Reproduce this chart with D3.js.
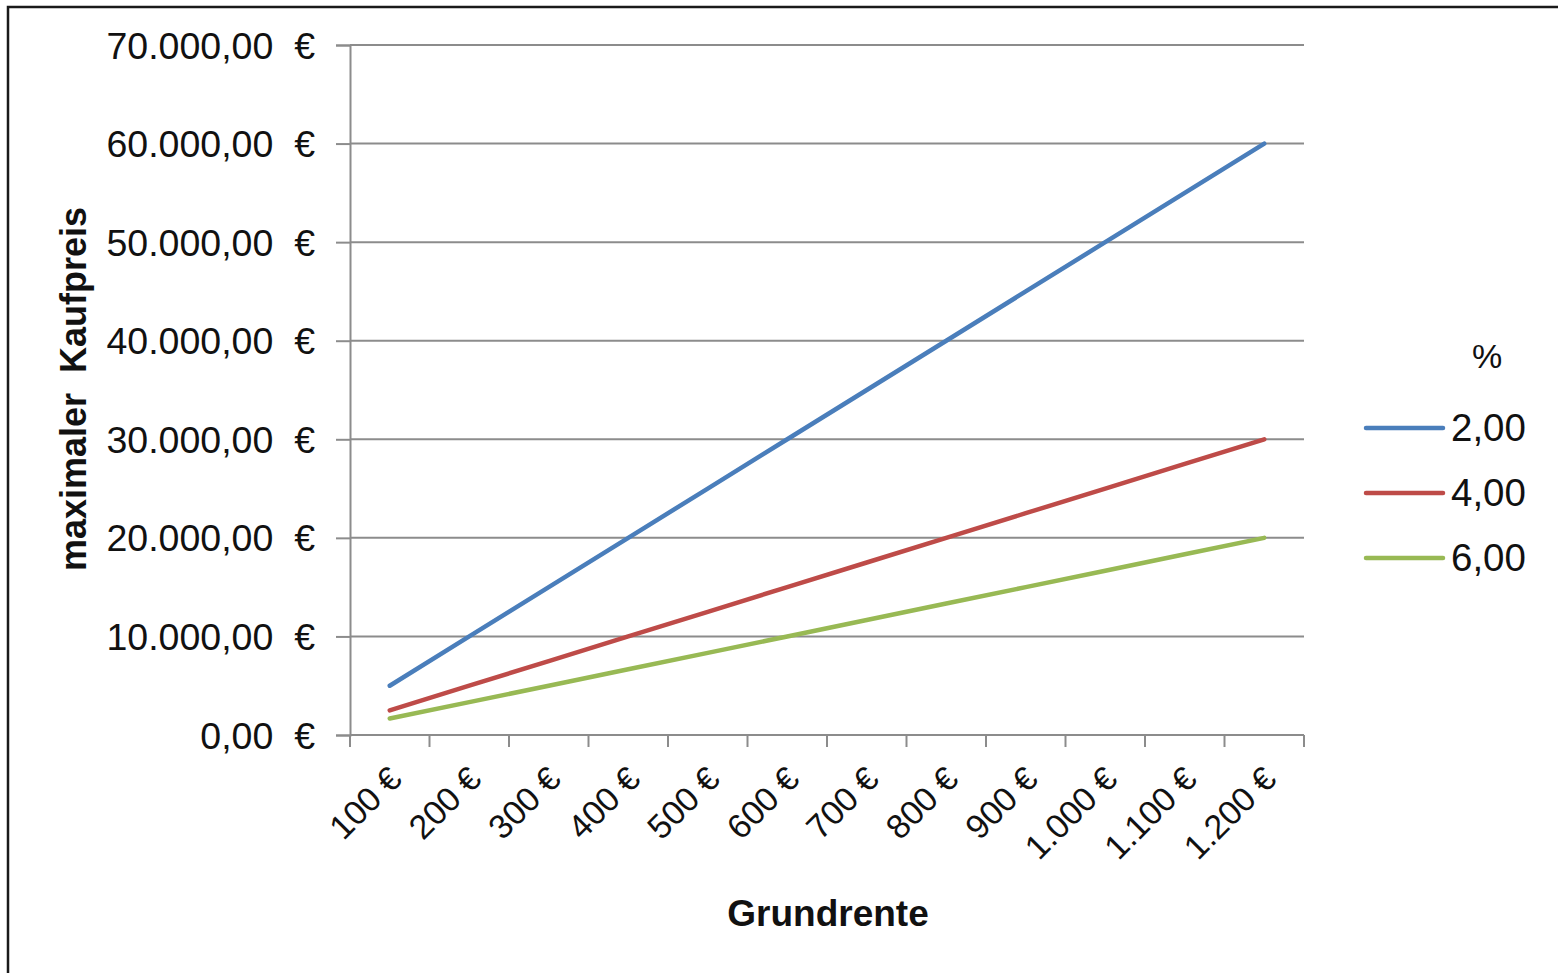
<!DOCTYPE html>
<html>
<head>
<meta charset="utf-8">
<script src="https://cdn.jsdelivr.net/npm/d3@7"></script>
<style>
  html, body { margin: 0; padding: 0; background: #fff; overflow: hidden; }
  svg { display: block; font-family: "Liberation Sans", Arial, sans-serif; }
</style>
</head>
<body>
<svg id="chart" width="1558" height="973"></svg>
<script>
// Grundrente categories (x axis)
const categories = [100, 200, 300, 400, 500, 600, 700, 800, 900, 1000, 1100, 1200];
// Interest rates (legend entries)
const rateLabels = ["2,00", "4,00", "6,00"];
// maximaler Kaufpreis per rate
const values2 = [5000, 10000, 15000, 20000, 25000, 30000, 35000, 40000, 45000, 50000, 55000, 60000];
const values4 = [2500, 5000, 7500, 10000, 12500, 15000, 17500, 20000, 22500, 25000, 27500, 30000];
const values6 = [1666.67, 3333.33, 5000, 6666.67, 8333.33, 10000, 11666.67, 13333.33, 15000, 16666.67, 18333.33, 20000];
// Y axis ticks
const yTicks = [0, 10000, 20000, 30000, 40000, 50000, 60000, 70000];

const seriesColors = ["#4a7ebb", "#be4b48", "#98b954"];
const series = [values2, values4, values6];

const svg = d3.select("#chart");

// outer chart frame
svg.append("rect")
  .attr("x", 8).attr("y", 7).attr("width", 1700).attr("height", 1100)
  .attr("fill", "none").attr("stroke", "#1a1a1a").attr("stroke-width", 2.5);

const plot = { left: 350, right: 1304, top: 45, bottom: 735 };

const x = d3.scaleBand()
  .domain(categories)
  .range([plot.left, plot.right])
  .paddingInner(0).paddingOuter(0);

const y = d3.scaleLinear()
  .domain([0, 70000])
  .range([plot.bottom, plot.top]);

const gridColor = "#8c8c8c";

// horizontal gridlines
svg.append("g")
  .selectAll("line")
  .data(yTicks.filter(d => d > 0))
  .join("line")
  .attr("x1", plot.left).attr("x2", plot.right)
  .attr("y1", d => y(d)).attr("y2", d => y(d))
  .attr("stroke", gridColor).attr("stroke-width", 2);

// y axis
const fmtY = v => d3.format(",.2f")(v).replace(/,/g, "#").replace(/\./g, ",").replace(/#/g, ".") + "\u00a0\u00a0€";
const yAxis = svg.append("g")
  .attr("transform", `translate(${plot.left},0)`)
  .call(d3.axisLeft(y).tickValues(yTicks).tickSize(14).tickPadding(21).tickFormat(fmtY));
yAxis.select(".domain").attr("stroke", gridColor).attr("stroke-width", 2);
yAxis.selectAll(".tick line").attr("stroke", gridColor).attr("stroke-width", 2);
yAxis.selectAll(".tick text")
  .attr("font-size", 37.5).attr("fill", "#111")
  .attr("font-family", "'Liberation Sans', Arial, sans-serif")
  .attr("dy", "0.35em");

// x axis with ticks at category boundaries
const boundaries = categories.map(c => x(c)).concat([plot.right]);
const xg = svg.append("g");
xg.append("line")
  .attr("x1", plot.left).attr("x2", plot.right)
  .attr("y1", plot.bottom).attr("y2", plot.bottom)
  .attr("stroke", gridColor).attr("stroke-width", 2);
xg.selectAll("line.tick")
  .data(boundaries)
  .join("line")
  .attr("class", "tick")
  .attr("x1", d => d).attr("x2", d => d)
  .attr("y1", plot.bottom).attr("y2", plot.bottom + 12)
  .attr("stroke", gridColor).attr("stroke-width", 2);

const fmtX = v => d3.format(",")(v).replace(/,/g, ".") + " €";
xg.selectAll("text")
  .data(categories)
  .join("text")
  .attr("transform", d => `translate(${x(d) + x.bandwidth() / 2 + 14},${plot.bottom + 46}) rotate(-45)`)
  .attr("text-anchor", "end")
  .attr("font-size", 34)
  .attr("fill", "#111")
  .text(fmtX);

// lines
const line = d3.line()
  .x((d, i) => x(categories[i]) + x.bandwidth() / 2)
  .y(d => y(d));

svg.append("g")
  .selectAll("path")
  .data(series)
  .join("path")
  .attr("d", d => line(d))
  .attr("fill", "none")
  .attr("stroke", (d, i) => seriesColors[i])
  .attr("stroke-width", 4.5)
  .attr("stroke-linecap", "round")
  .attr("stroke-linejoin", "round");

// axis titles
svg.append("text")
  .attr("x", 828).attr("y", 926)
  .attr("text-anchor", "middle")
  .attr("font-size", 37).attr("font-weight", "bold").attr("fill", "#111")
  .text("Grundrente");

svg.append("text")
  .attr("transform", `translate(86,389) rotate(-90)`)
  .attr("text-anchor", "middle")
  .attr("font-size", 36).attr("font-weight", "bold").attr("fill", "#111")
  .text("maximaler\u00a0 Kaufpreis");

// legend
const legend = svg.append("g");
legend.append("text")
  .attr("x", 1487).attr("y", 368)
  .attr("text-anchor", "middle")
  .attr("font-size", 34).attr("fill", "#111")
  .text("%");

const legendY = [428, 493, 558];
const items = legend.selectAll("g.item")
  .data(rateLabels)
  .join("g")
  .attr("class", "item")
  .attr("transform", (d, i) => `translate(0,${legendY[i]})`);
items.append("line")
  .attr("x1", 1366).attr("x2", 1443)
  .attr("y1", 0).attr("y2", 0)
  .attr("stroke", (d, i) => seriesColors[i])
  .attr("stroke-width", 4.5)
  .attr("stroke-linecap", "round");
items.append("text")
  .attr("x", 1451).attr("y", 0)
  .attr("dy", "0.35em")
  .attr("font-size", 38.5).attr("fill", "#111")
  .text(d => d);
</script>
</body>
</html>
